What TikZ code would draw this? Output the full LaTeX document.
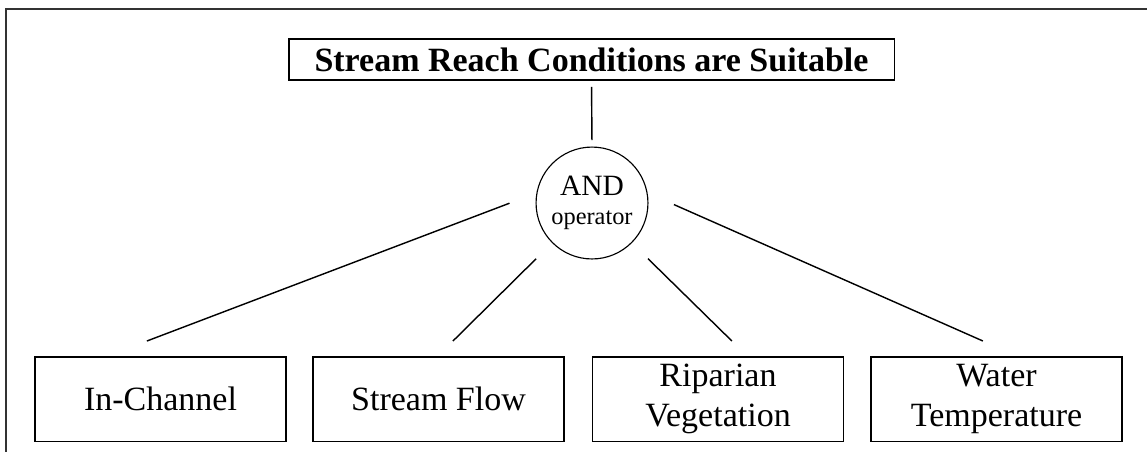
\documentclass[tikz,border=0pt]{standalone}
\usepackage{fontspec}
\setmainfont{Liberation Serif}
\usetikzlibrary{positioning,calc}

\begin{document}
\begin{tikzpicture}[x=0.353pt,y=-0.353pt]
\tikzset{line width=0.65pt,
  goal/.style={draw,inner sep=0pt,minimum width=213.6pt,minimum height=14.5pt,font=\fontsize{12}{14}\selectfont\bfseries},
  op/.style={draw,circle,inner sep=0pt,minimum size=39.5pt,align=center,font=\fontsize{10.4}{11.6}\selectfont},
  factor/.style={draw,inner sep=0pt,minimum width=88.6pt,minimum height=29.7pt,align=center,font=\fontsize{12}{14.1}\selectfont},
  link/.style={line width=0.5pt}}
\useasboundingbox (0,0) rectangle (1147,451);
\draw[line width=0.85pt,black!80] (6,460) -- (6,9) -- (1160,9);
\node[goal] (goal) at (591.5,59.5) {Stream Reach Conditions are Suitable};
\node[op] (and) at (592,203) {AND\\[-1.5pt]{\fontsize{8.6}{10}\selectfont operator}};
\node[factor] (inchan) at (160.5,399) {In-Channel};
\node[factor] (flow) at (438.5,399) {Stream Flow};
\node[factor] (ripar) at (718,399) {Riparian\\Vegetation};
\node[factor] (water) at (996.5,399) {Water\\Temperature};
\draw[link,shorten <=2.1pt,shorten >=2.1pt] (goal.south) -- (and.north);
\draw[link,shorten <=10pt] (and.170) -- ([xshift=-4.8pt,yshift=5.3pt]inchan.north);
\draw[link,shorten <=7.8pt] (and.225) -- ([xshift=5.1pt,yshift=5.3pt]flow.north);
\draw[link,shorten <=7.8pt] (and.315) -- ([xshift=4.9pt,yshift=5.3pt]ripar.north);
\draw[link,shorten <=10pt] (and.10) -- ([xshift=-4.8pt,yshift=5.3pt]water.north);
\end{tikzpicture}
\end{document}
